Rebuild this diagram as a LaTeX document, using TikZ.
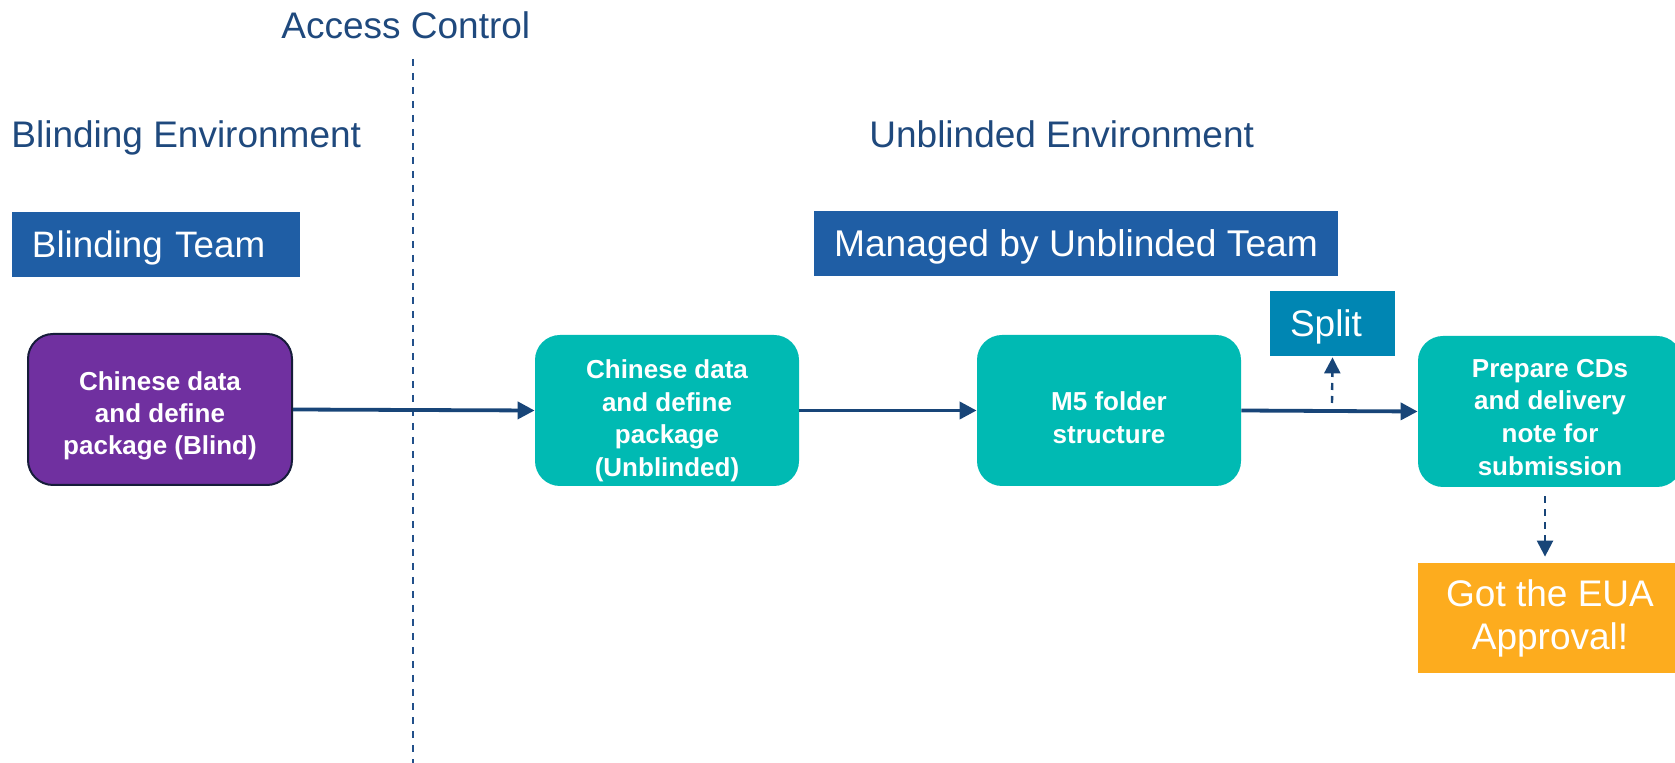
\documentclass[tikz,border=0pt]{standalone}
\usepackage{fontspec}
\setmainfont{Liberation Sans}
\usetikzlibrary{arrows.meta}
\definecolor{navytext}{RGB}{31,73,125}
\definecolor{teambl}{RGB}{31,94,165}
\definecolor{splitbl}{RGB}{0,134,179}
\definecolor{tealbox}{RGB}{0,186,179}
\definecolor{purplebox}{RGB}{112,48,160}
\definecolor{purpleedge}{RGB}{22,28,58}
\definecolor{orangebox}{RGB}{253,172,30}
\definecolor{arrowblue}{RGB}{24,69,120}
\definecolor{dividerblue}{RGB}{34,80,138}
\begin{document}
\begin{tikzpicture}[x=0.5pt,y=-0.5pt,
  heading/.style={font=\fontsize{18.5}{22}\selectfont, text=navytext, inner sep=0pt, anchor=base west},
  teambox/.style={fill=teambl, text=white, font=\fontsize{18.4}{22}\selectfont, minimum height=32.5pt,
    inner xsep=10pt, inner ysep=0pt, text height=13.1pt, text depth=0pt},
  splitbox/.style={fill=splitbl, text=white, font=\fontsize{18.5}{22}\selectfont, minimum height=32.5pt,
    inner xsep=10pt, inner ysep=0pt, text height=13.2pt, text depth=0pt, text width=42.5pt, align=left},
  stepbox/.style={fill=tealbox, rounded corners=12.5pt, text=white, font=\bfseries\fontsize{13}{16.4}\selectfont,
    minimum width=132pt, minimum height=75.5pt, inner sep=0pt, align=center, text depth=2.7pt},
  blindbox/.style={fill=purplebox, draw=purpleedge, line width=1pt, rounded corners=12.5pt, text=white,
    font=\bfseries\fontsize{13}{16}\selectfont, minimum width=132pt, minimum height=75.5pt, inner sep=0pt,
    align=center, text depth=2.7pt},
  euabox/.style={fill=orangebox, text=white, font=\fontsize{18.5}{21.5}\selectfont,
    minimum width=132pt, minimum height=55pt, inner sep=0pt, align=center},
  flow/.style={draw=arrowblue, line width=1.9pt, -{Triangle[length=8.5pt,width=8.5pt]}},
  dashflow/.style={draw=arrowblue, line width=1.2pt, dash pattern=on 3.5pt off 3pt, -{Triangle[length=8pt,width=8pt]}},
  acline/.style={draw=dividerblue, line width=1.1pt, dash pattern=on 3.5pt off 3.5pt}
]
\path[use as bounding box] (0,0) rectangle (1675,763);
\clip (0,0) rectangle (1675,763);

% access control divider
\coordinate (acTop) at (413,59);
\coordinate (acBot) at (413,763);
\draw[acline] (acTop) -- (acBot);

% headings
\node[heading] (ac) at (281,39) {Access Control};
\node[heading] (be) at (11,148) {Blinding Environment};
\node[heading] (ue) at (869,148) {Unblinded Environment};

% team labels
\node[teambox, text width=124pt, align=left] (bt) at (156,244.5) {Blinding Team};
\node[teambox, minimum width=261pt, font=\fontsize{18.6}{22}\selectfont] (mt) at (1076,243.5) {Managed by Unblinded Team};
\node[splitbox] (sp) at (1332.5,323.5) {Split};

% process boxes
\node[blindbox, text height=48.2pt] (b1) at (160,409.5) {Chinese data\\and define\\package (Blind)};
\node[stepbox, text height=69pt] (b2) at (667,410.5) {Chinese data\\and define\\package\\(Unblinded)};
\node[stepbox, text height=36pt] (b3) at (1109,410.5) {M5 folder\\structure};
\node[stepbox, text height=66.8pt] (b4) at (1550,411.5) {Prepare CDs\\and delivery\\note for\\submission};
\node[euabox] (eua) at (1550,618) {Got the EUA\\Approval!};

% connectors
\draw[flow] (b1.east) -- (b2.west);
\draw[flow] (b2.east) -- (b3.west);
\draw[flow] (b3.east) -- (b4.west);
\coordinate (spFoot) at (1332,403);
\draw[dashflow] (spFoot) -- ([yshift=-0.5pt]sp.south);
\draw[dashflow] ([xshift=-2.5pt,yshift=-4.5pt]b4.south) -- ([xshift=-2.5pt,yshift=3pt]eua.north);
\end{tikzpicture}
\end{document}
